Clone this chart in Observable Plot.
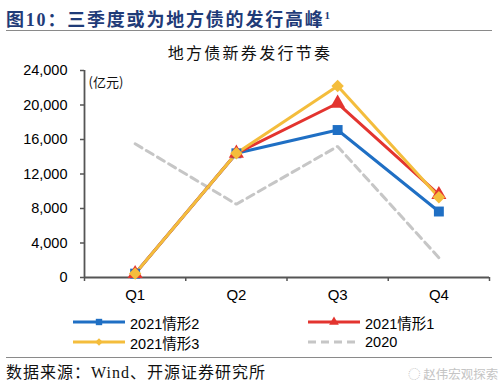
<!DOCTYPE html>
<html>
<head>
<meta charset="utf-8">
<script src="https://cdn.jsdelivr.net/npm/d3@7"></script>
<script src="https://cdn.jsdelivr.net/npm/@observablehq/plot@0.6"></script>
<style>
  html, body { margin: 0; padding: 0; background: #fff; }
  #wrap { position: relative; width: 500px; height: 391px; overflow: hidden; font-family: "Liberation Sans", Arial, "Noto Sans CJK SC", sans-serif; }
  .abs { position: absolute; white-space: nowrap; }
  #title { left: 6px; top: 4px; font-family: "Liberation Serif", "Noto Sans CJK SC", serif; font-weight: bold; font-size: 18px; color: #1f3b78; line-height: 22px; letter-spacing: 1.8px; }
  #title sup { font-size: 11px; vertical-align: 7px; letter-spacing: 0; }
  .hr { position: absolute; left: 6px; width: 486px; height: 0; border-top: 1.5px solid #8a8a8a; }
  #ctitle { left: 0; width: 500px; text-align: center; top: 42px; font-family: "Noto Sans CJK SC", sans-serif; font-size: 16px; letter-spacing: 2.3px; line-height: 20px; color: #111; }
  #chart { position: absolute; left: 0; top: 40px; }
  .leg { position: absolute; height: 20px; display: flex; align-items: center; font-size: 14.5px; color: #000; font-family: "Liberation Sans", Arial, "Noto Sans CJK SC", sans-serif; }
  .leg svg { margin-right: 5px; }
  #foot { left: 6px; top: 363px; font-family: "Liberation Serif", "Noto Sans CJK SC", serif; font-size: 16px; letter-spacing: 1px; line-height: 20px; color: #111; }
  #wm { left: 408px; top: 364px; font-family: "Noto Sans CJK SC", sans-serif; font-size: 12.5px; color: #c4c4c4; }
</style>
</head>
<body>
<div id="wrap">
  <div id="title" class="abs">图10：三季度或为地方债的发行高峰<sup>1</sup></div>
  <div class="hr" style="top:30px"></div>
  <div id="chart"></div>
  <div id="ctitle" class="abs">地方债新券发行节奏</div>
  <div id="legend"></div>
  <div class="hr" style="top:357px"></div>
  <div id="foot" class="abs">数据来源：Wind、开源证券研究所</div>
  <div id="wm" class="abs">◌ 赵伟宏观探索</div>
</div>
<script>
// ---- data ----
const quarters = ["Q1", "Q2", "Q3", "Q4"];
const seriesNames = ["2021情形2", "2021情形1", "2021情形3", "2020"];
const case2 = [450, 14400, 17100, 7650];
const case1 = [450, 14400, 20200, 9600];
const case3 = [450, 14400, 22200, 9300];
const y2020 = [15500, 8500, 15200, 2300];
const yTicks = [0, 4000, 8000, 12000, 16000, 20000, 24000];
const unitLabel = "(亿元)";

// ---- styles (not data) ----
const styles = {
  "2021情形2": {color: "#1f6fc4", symbol: "square", r: 5.6, lsym: 3.6},
  "2021情形1": {color: "#e3342f", symbol: "triangle", r: 5.6, lsym: 3.6},
  "2021情形3": {color: "#f4bd3c", symbol: "diamond2", r: 5.6, lsym: 3.4},
  "2020": {color: "#c6c6c6", dash: "8,5"}
};
const valuesBy = {"2021情形2": case2, "2021情形1": case1, "2021情形3": case3, "2020": y2020};

const rows = seriesNames.flatMap(name => quarters.map((q, i) => ({series: name, qi: i + 1, q, value: valuesBy[name][i]})));
const drawOrder = ["2020", "2021情形2", "2021情形1", "2021情形3"];

const marks = [];
for (const name of drawOrder) {
  const st = styles[name];
  const data = rows.filter(d => d.series === name);
  marks.push(Plot.line(data, {x: "qi", y: "value", stroke: st.color, strokeWidth: 3, strokeDasharray: st.dash, strokeLinejoin: "miter"}));
}
for (const name of drawOrder) {
  const st = styles[name];
  if (!st.symbol) continue;
  const data = rows.filter(d => d.series === name);
  marks.push(Plot.dot(data, {x: "qi", y: "value", symbol: () => st.symbol, fill: st.color, stroke: null, r: st.r}));
}

const boundaries = d3.range(0.5, quarters.length + 1, 1);

const chart = Plot.plot({
  width: 500,
  height: 270,
  marginLeft: 84,
  marginRight: 11,
  marginTop: 30,
  marginBottom: 33,
  style: {fontFamily: "'Liberation Sans', Arial, 'Noto Sans CJK SC', sans-serif", fontSize: "14.5px", color: "#000", background: "transparent", overflow: "visible"},
  symbol: {type: "identity"},
  x: {type: "linear", domain: [0.5, quarters.length + 0.5], label: null, axis: null},
  y: {domain: [0, 24000], label: null, axis: null},
  marks: [
    Plot.axisY({ticks: yTicks, tickSize: 4, tickPadding: 13, tickFormat: d3.format(","), stroke: "#555", strokeWidth: 1.5, fill: "#000", fontSize: 14.5}),
    Plot.axisX({ticks: boundaries, tickSize: 4, tickFormat: () => "", stroke: "#555", strokeWidth: 1.5}),
    Plot.axisX({ticks: quarters.map((q, i) => i + 1), tickSize: 0, tickPadding: 12, tickFormat: i => quarters[i - 1], fill: "#000", fontSize: 15}),
    Plot.ruleX([0.5], {stroke: "#555", strokeWidth: 1.8}),
    Plot.ruleY([0], {stroke: "#555", strokeWidth: 1.8}),
    Plot.text([unitLabel], {frameAnchor: "top-left", textAnchor: "start", dx: 4, dy: 7, fontSize: 13, fontFamily: "'Noto Sans CJK SC', sans-serif", fill: "#111"}),
    ...marks
  ]
});
document.getElementById("chart").appendChild(chart);

// ---- legend (HTML) ----
const legendPos = {
  "2021情形2": {left: 73, top: 312},
  "2021情形1": {left: 308, top: 312},
  "2021情形3": {left: 73, top: 332},
  "2020": {left: 308, top: 332}
};
const symbolTypes = {square: d3.symbolSquare, triangle: d3.symbolTriangle, diamond2: d3.symbolDiamond2};
const legend = document.getElementById("legend");
for (const name of seriesNames) {
  const st = styles[name];
  const p = legendPos[name];
  const div = document.createElement("div");
  div.className = "leg";
  div.style.left = p.left + "px";
  div.style.top = p.top + "px";
  let sym = "";
  if (st.symbol) {
    const path = d3.symbol(symbolTypes[st.symbol], Math.PI * st.lsym * st.lsym)();
    sym = `<path d="${path}" transform="translate(26,10)" fill="${st.color}"/>`;
  }
  div.innerHTML = `<svg width="52" height="20"><line x1="0" x2="52" y1="10" y2="10" stroke="${st.color}" stroke-width="3" ${st.dash ? `stroke-dasharray="${st.dash}"` : ""}/>${sym}</svg><span>${name}</span>`;
  legend.appendChild(div);
}
</script>
</body>
</html>
